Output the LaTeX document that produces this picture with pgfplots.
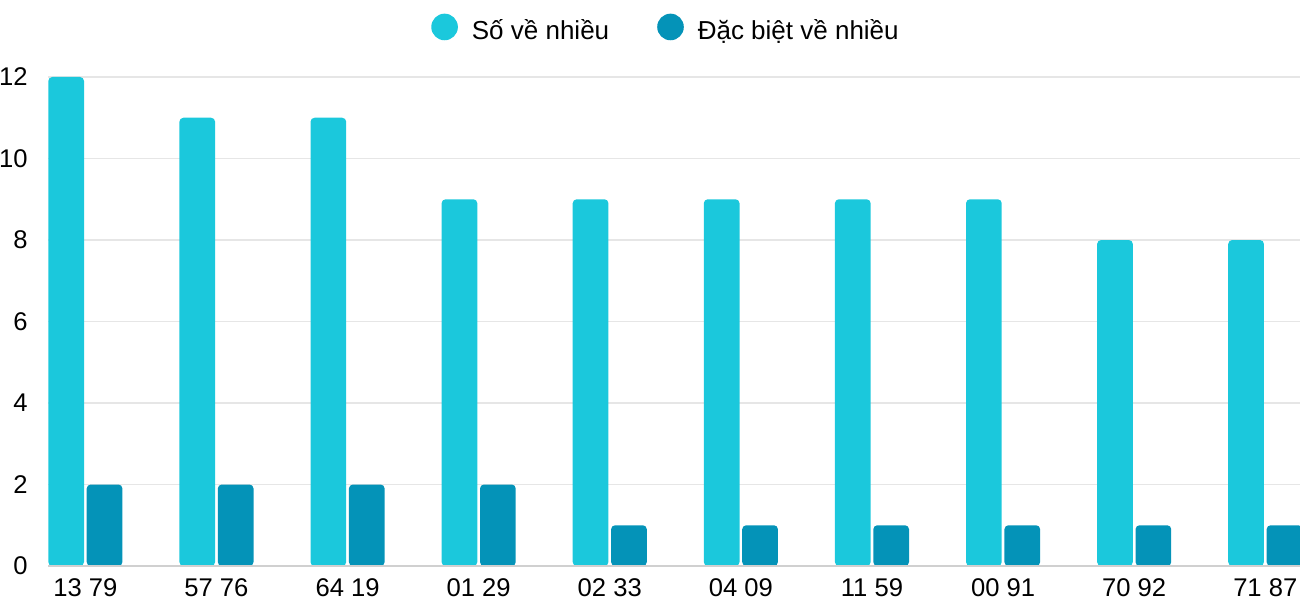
\documentclass[border=0pt]{standalone}
\usepackage{fontspec}
\setmainfont{Liberation Sans}
\usepackage{pgfplots}
\pgfplotsset{compat=1.18}
\definecolor{cyanbar}{RGB}{27,200,220}
\definecolor{darkbar}{RGB}{4,147,184}
\definecolor{gridgray}{RGB}{230,230,230}
\definecolor{axisgray}{RGB}{208,208,208}
\begin{document}
\begin{tikzpicture}
\begin{axis}[
  scale only axis, width=626pt, height=244.5pt,
  xmin=-0.285, xmax=9.265, ymin=0, ymax=12,
  ybar=1.35pt, bar width=17.85pt,
  xtick={0,...,9},
  xticklabels={13 79,57 76,64 19,01 29,02 33,04 09,11 59,00 91,70 92,71 87},
  ytick={0,2,4,6,8,10,12},
  ymajorgrids, grid style={color=gridgray, line width=0.75pt},
  axis line style={draw=none},
  major tick length=0pt,
  /pgf/number format/assume math mode=true,
  tick label style={font=\fontsize{12.8}{15}\selectfont, text=black},
  xticklabel style={anchor=north, inner sep=0pt, yshift=-6pt},
  yticklabel style={anchor=east, inner sep=0pt, xshift=-10pt},
  legend columns=2,
  legend style={at={(0.4944,1.096)}, anchor=center, draw=none,
    font=\fontsize{13}{15}\selectfont,
    /tikz/every even column/.append style={column sep=22pt}},
  legend image code/.code={\fill[#1] (6.65pt,0.2em) circle (6.65pt);
    \path (18.3pt,0.2em);},
]
\addplot[fill=cyanbar, draw=none, rounded corners=2pt] coordinates {
(0,12) (1,11) (2,11) (3,9) (4,9) (5,9) (6,9) (7,9) (8,8) (9,8)};
\addlegendentry{Số về nhiều}
\addplot[fill=darkbar, draw=none, rounded corners=2pt] coordinates {
(0,2) (1,2) (2,2) (3,2) (4,1) (5,1) (6,1) (7,1) (8,1) (9,1)};
\addlegendentry{Đặc biệt về nhiều}
\draw[axisgray, line width=0.75pt] (rel axis cs:0,0) -- (rel axis cs:1,0);
\end{axis}
\pgfresetboundingbox
\path[use as bounding box] (-24pt,-17pt) rectangle (626pt,283pt);
\end{tikzpicture}
\end{document}
